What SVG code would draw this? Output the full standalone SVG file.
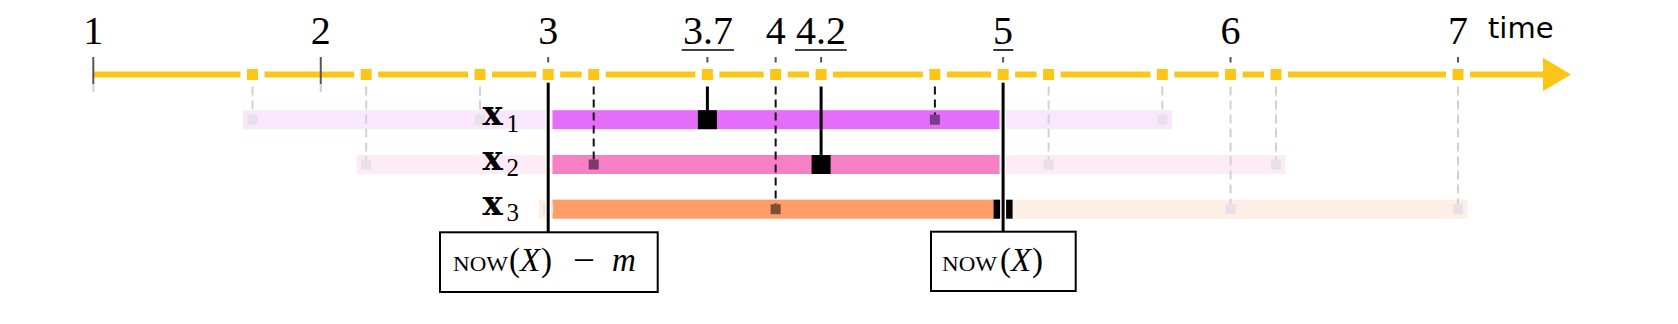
<svg xmlns="http://www.w3.org/2000/svg" width="1678" height="324" viewBox="0 0 1678 324">
<style>
.num{font-family:"Liberation Serif",serif;font-size:40px;fill:#000;text-anchor:middle}
.ul{stroke:#000;stroke-width:1.6}
.tk{stroke:#555;stroke-width:2}
.tkl{stroke:#cfcfcf;stroke-width:2}
.halo{fill:#fff}
.ysq{fill:#fdc517}
.gd{stroke:#d2d2d2;stroke-width:2;stroke-dasharray:9 5;fill:none}
.bd{stroke:#111;stroke-width:2;stroke-dasharray:8 5;fill:none}
.bs{stroke:#000;stroke-width:3;fill:none}
.wh{stroke:#fff;stroke-width:6;fill:none}
.fsq{fill:#e6e1e8}
.big{fill:#000}
.lbl{font-family:"DejaVu Serif",serif;font-weight:bold;font-size:34px;fill:#000}
.sub{font-family:"Liberation Serif",serif;font-size:25px;fill:#000}
.box{fill:#fff;stroke:#000;stroke-width:2}
.bt{font-family:"Liberation Serif",serif;font-size:33px;fill:#000}
.mid{text-anchor:middle}
.sc{font-family:"Liberation Serif",serif;font-size:21px;fill:#000}
.it{font-style:italic}
</style>
<rect width="1678" height="324" fill="#fff"/>

<g id="axis">
  <line x1="93.3" y1="74.5" x2="1545" y2="74.5" stroke="#fdc517" stroke-width="6"/>
  <polygon points="1543,57.7 1571,74.5 1543,91.3" fill="#fdc517"/>
  <text x="1488" y="38" font-family="DejaVu Sans, sans-serif" font-size="29">time</text>
</g>

<g id="ticks">
  <line class="tk" x1="93.3" y1="57" x2="93.3" y2="84"/>
  <line class="tkl" x1="93.3" y1="84" x2="93.3" y2="92"/>
  <line class="tk" x1="320.75" y1="57" x2="320.75" y2="84"/>
  <line class="tkl" x1="320.75" y1="84" x2="320.75" y2="92"/>
  <line class="tk" x1="548.2" y1="57" x2="548.2" y2="84"/>
  <line class="tk" x1="707.4" y1="57" x2="707.4" y2="84"/>
  <line class="tk" x1="775.65" y1="57" x2="775.65" y2="84"/>
  <line class="tk" x1="821.1" y1="57" x2="821.1" y2="84"/>
  <line class="tk" x1="1003.1" y1="57" x2="1003.1" y2="84"/>
  <line class="tk" x1="1230.55" y1="57" x2="1230.55" y2="84"/>
  <line class="tk" x1="1458" y1="57" x2="1458" y2="84"/>
</g>

<g id="tick-labels">
  <text class="num" x="93.3" y="44">1</text>
  <text class="num" x="320.75" y="44">2</text>
  <text class="num" x="548.2" y="44">3</text>
  <text class="num" x="708" y="44">3.7</text>
  <line class="ul" x1="681.7" y1="50" x2="734" y2="50"/>
  <text class="num" x="775.65" y="44">4</text>
  <text class="num" x="821" y="44">4.2</text>
  <line class="ul" x1="795" y1="50" x2="846.7" y2="50"/>
  <text class="num" x="1003.1" y="44">5</text>
  <line class="ul" x1="993.3" y1="50" x2="1013.3" y2="50"/>
  <text class="num" x="1230.55" y="44">6</text>
  <text class="num" x="1458" y="44">7</text>
</g>

<g id="axis-stamps">
  <rect class="halo" x="240.5" y="62.5" width="24" height="24"/><rect class="ysq" x="247" y="69" width="11" height="11"/>
  <rect class="halo" x="354.2" y="62.5" width="24" height="24"/><rect class="ysq" x="360.7" y="69" width="11" height="11"/>
  <rect class="halo" x="468" y="62.5" width="24" height="24"/><rect class="ysq" x="474.5" y="69" width="11" height="11"/>
  <rect class="halo" x="536.2" y="62.5" width="24" height="24"/><rect class="ysq" x="542.7" y="69" width="11" height="11"/>
  <rect class="halo" x="581.7" y="62.5" width="24" height="24"/><rect class="ysq" x="588.2" y="69" width="11" height="11"/>
  <rect class="halo" x="695.4" y="62.5" width="24" height="24"/><rect class="ysq" x="701.9" y="69" width="11" height="11"/>
  <rect class="halo" x="763.65" y="62.5" width="24" height="24"/><rect class="ysq" x="770.15" y="69" width="11" height="11"/>
  <rect class="halo" x="809.1" y="62.5" width="24" height="24"/><rect class="ysq" x="815.6" y="69" width="11" height="11"/>
  <rect class="halo" x="922.9" y="62.5" width="24" height="24"/><rect class="ysq" x="929.4" y="69" width="11" height="11"/>
  <rect class="halo" x="991.1" y="62.5" width="24" height="24"/><rect class="ysq" x="997.6" y="69" width="11" height="11"/>
  <rect class="halo" x="1036.6" y="62.5" width="24" height="24"/><rect class="ysq" x="1043.1" y="69" width="11" height="11"/>
  <rect class="halo" x="1150.3" y="62.5" width="24" height="24"/><rect class="ysq" x="1156.8" y="69" width="11" height="11"/>
  <rect class="halo" x="1218.55" y="62.5" width="24" height="24"/><rect class="ysq" x="1225.05" y="69" width="11" height="11"/>
  <rect class="halo" x="1264" y="62.5" width="24" height="24"/><rect class="ysq" x="1270.5" y="69" width="11" height="11"/>
  <rect class="halo" x="1446" y="62.5" width="24" height="24"/><rect class="ysq" x="1452.5" y="69" width="11" height="11"/>
</g>

<g id="x1">
  <rect x="243" y="110.2" width="929" height="19" fill="#f9e8fd"/>
  <rect x="552.5" y="110.2" width="447" height="19" fill="#e46ef9"/>
</g>
<g id="x2">
  <rect x="356.7" y="155" width="928.8" height="19" fill="#fdebf5"/>
  <rect x="552.5" y="155" width="447" height="19" fill="#f77fc5"/>
</g>
<g id="x3">
  <rect x="538.7" y="199.7" width="928.8" height="19" fill="#feefe6"/>
  <rect x="552.5" y="199.7" width="447" height="19" fill="#fe9d68"/>
</g>

<g id="connectors">
  <line class="gd" x1="252.5" y1="86.5" x2="252.5" y2="114.7"/>
  <line class="gd" x1="480" y1="86.5" x2="480" y2="114.7"/>
  <line class="gd" x1="1162.3" y1="86.5" x2="1162.3" y2="114.7"/>
  <line class="gd" x1="366.2" y1="86.5" x2="366.2" y2="159.5"/>
  <line class="gd" x1="1048.6" y1="86.5" x2="1048.6" y2="159.5"/>
  <line class="gd" x1="1276" y1="86.5" x2="1276" y2="159.5"/>
  <line class="gd" x1="1230.55" y1="86.5" x2="1230.55" y2="204.2"/>
  <line class="gd" x1="1458" y1="86.5" x2="1458" y2="204.2"/>
  <line class="bd" x1="593.7" y1="86.5" x2="593.7" y2="159.5"/>
  <line class="bd" x1="775.65" y1="86.5" x2="775.65" y2="204.2"/>
  <line class="bd" x1="934.9" y1="86.5" x2="934.9" y2="114.7"/>
  <line class="bs" x1="707.4" y1="86.5" x2="707.4" y2="111"/>
  <line class="bs" x1="821.1" y1="86.5" x2="821.1" y2="156"/>
</g>

<g id="stamps">
  <rect class="fsq" x="247.5" y="114.7" width="10" height="10"/>
  <rect class="fsq" x="475" y="114.7" width="10" height="10"/>
  <rect class="big" x="697.9" y="110.2" width="19" height="19"/>
  <rect x="929.9" y="114.7" width="10" height="10" fill="#7a3c8a"/>
  <rect class="fsq" x="1157.3" y="114.7" width="10" height="10"/>
  <rect class="fsq" x="361.2" y="159.5" width="10" height="10"/>
  <rect x="588.7" y="159.5" width="10" height="10" fill="#7e3a63"/>
  <rect class="big" x="811.6" y="155" width="19" height="19"/>
  <rect class="fsq" x="1043.6" y="159.5" width="10" height="10"/>
  <rect class="fsq" x="1271" y="159.5" width="10" height="10"/>
  <rect class="fsq" x="543.2" y="204.2" width="10" height="10"/>
  <rect x="770.65" y="204.2" width="10" height="10" fill="#7e4e35"/>
  <rect class="big" x="993.6" y="199.7" width="19" height="19"/>
  <rect class="fsq" x="1225.55" y="204.2" width="10" height="10"/>
  <rect class="fsq" x="1453" y="204.2" width="10" height="10"/>
</g>

<g id="window-lines">
  <line class="wh" x1="548.2" y1="83" x2="548.2" y2="232"/>
  <line class="bs" x1="548.2" y1="82.7" x2="548.2" y2="233"/>
  <line class="wh" x1="1003.1" y1="83" x2="1003.1" y2="232"/>
  <line class="bs" x1="1003.1" y1="82.7" x2="1003.1" y2="233"/>
</g>

<g id="row-labels">
  <text class="lbl" x="482.5" y="125.2">x</text><text class="sub" x="506.5" y="131.5">1</text>
  <text class="lbl" x="482.5" y="170">x</text><text class="sub" x="506.5" y="176.3">2</text>
  <text class="lbl" x="482.5" y="214.7">x</text><text class="sub" x="506.5" y="221">3</text>
</g>

<g id="box-now-minus-m">
  <rect class="box" x="440" y="232.3" width="217.7" height="59.7"/>
  <text class="sc" x="453" y="270.7" textLength="55" lengthAdjust="spacingAndGlyphs">NOW</text>
  <text class="bt" x="509" y="270.7">(</text>
  <text class="bt it" x="520" y="270.7">X</text>
  <text class="bt" x="541" y="270.7">)</text>
  <text class="bt mid" x="584" y="270.7" textLength="22" lengthAdjust="spacingAndGlyphs">−</text>
  <text class="bt it" x="612" y="270.7">m</text>
</g>

<g id="box-now">
  <rect class="box" x="931" y="231.7" width="144.7" height="59.3"/>
  <text class="sc" x="942" y="270.7" textLength="55" lengthAdjust="spacingAndGlyphs">NOW</text>
  <text class="bt" x="1000" y="270.7">(</text>
  <text class="bt it" x="1011" y="270.7">X</text>
  <text class="bt" x="1032" y="270.7">)</text>
</g>
</svg>
